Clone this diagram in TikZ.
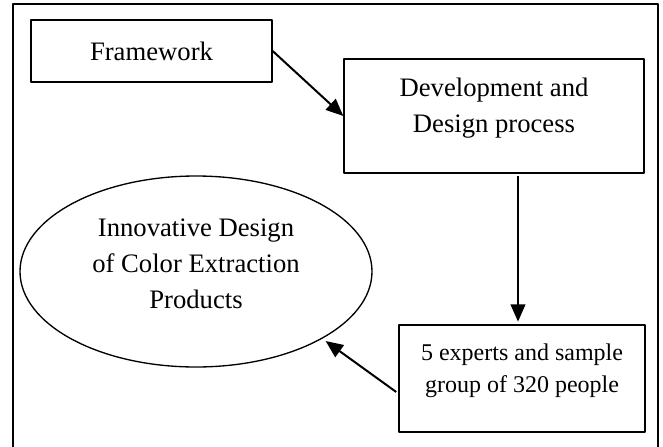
\documentclass[tikz,border=0pt]{standalone}
\usepackage{fontspec}
\setmainfont{Liberation Serif}
\usetikzlibrary{arrows.meta,calc,shapes.geometric}

\begin{document}
\begin{tikzpicture}[x=0.75pt, y=-0.75pt, line join=round,
    >={Triangle[length=13pt,width=11pt]},
    box/.style={draw, line width=1pt, inner sep=0pt, align=center,
      font=\fontsize{20}{27}\selectfont},
    flow/.style={->, line width=1.5pt}]
    \useasboundingbox (0,0) rectangle (663,446);

    % outer frame, open at the bottom
    \draw[line width=1pt] (13,452) -- (13,4) -- (658,4) -- (658,452);

    % blocks
    \node[box, minimum width=180.75pt, minimum height=46.5pt] (fw) at (151.5,51) {Framework};
    \node[box, minimum width=225pt, minimum height=85.5pt, text depth=16pt] (dev) at (494,116)
      {Development and\\Design process};
    \node[box, ellipse, minimum width=264pt, minimum height=143.25pt, text depth=12pt] (ell) at (196,271.5)
      {Innovative Design\\of Color Extraction\\Products};
    \node[box, minimum width=184.5pt, minimum height=80.25pt, text depth=15pt,
      font=\fontsize{18}{24}\selectfont] (grp) at (522,378.5)
      {5 experts and sample\\group of 320 people};

    % connectors
    \draw[flow] (fw.east) -- (dev.west);
    \draw[flow, shorten <=2pt, shorten >=2pt] ($(dev.south)+(24,0)$) -- ($(grp.north)+(-4,0)$);
    \draw[flow, shorten <=2pt, shorten >=3pt] ($(grp.west)+(0,15)$) -- (ell.-28.5);
\end{tikzpicture}
\end{document}
